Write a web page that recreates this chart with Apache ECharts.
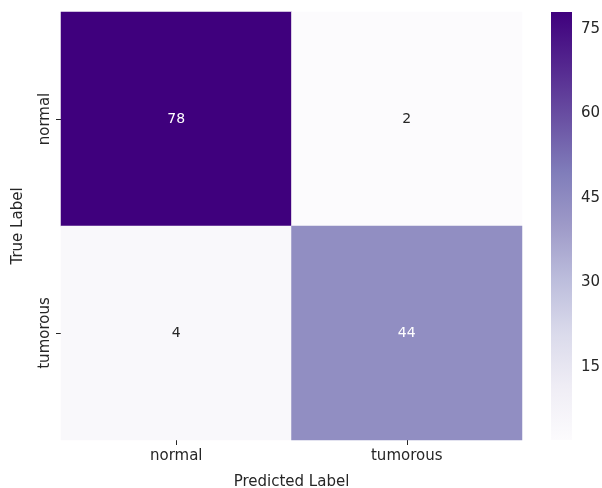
<!DOCTYPE html>
<html>
<head>
<meta charset="utf-8">
<script src="https://cdn.jsdelivr.net/npm/echarts@6/dist/echarts.min.js"></script>
<style>
  html, body { margin: 0; padding: 0; background: #ffffff; }
  #chart { width: 602px; height: 488px; }
</style>
</head>
<body>
<div id="chart"></div>
<script>
// Confusion matrix: rows = true label, columns = predicted label
const predictedLabels = ['normal', 'tumorous'];
const trueLabels = ['normal', 'tumorous'];
const countsNormalRow = [78, 2];
const countsTumorousRow = [4, 44];
const colorbarTicks = [15, 30, 45, 60, 75];

// matplotlib "Purples" colour stops
const purples = ['#fcfbfd', '#efedf5', '#dadaeb', '#bcbddc', '#9e9ac8',
                 '#807dba', '#6a51a3', '#54278f', '#3f007d'];

const rows = [countsNormalRow, countsTumorousRow];
const allValues = rows.flat();
const vMin = Math.min(...allValues);
const vMax = Math.max(...allValues);

const FONT = 'DejaVu Sans';
const TEXT = '#262626';

const cells = [];
rows.forEach((row, r) => {
  row.forEach((v, c) => {
    const t = (v - vMin) / (vMax - vMin);
    cells.push({
      value: [c, r, v],
      label: { color: t > 0.5 ? '#ffffff' : TEXT }
    });
  });
});

// vertical gradient for the colour bar, top = max
const barGradient = new echarts.graphic.LinearGradient(0, 0, 0, 1,
  purples.slice().reverse().map((c, i, a) => ({ offset: i / (a.length - 1), color: c })));

const chart = echarts.init(document.getElementById('chart'), null, { renderer: 'canvas' });

chart.setOption({
  animation: false,
  backgroundColor: '#ffffff',
  textStyle: { fontFamily: FONT },
  grid: [
    { left: 61, top: 12, width: 461, height: 428, outerBoundsMode: 'none', containLabel: false },
    { left: 551, top: 12, width: 21, height: 428, outerBoundsMode: 'none', containLabel: false }
  ],
  xAxis: [
    {
      gridIndex: 0,
      type: 'category',
      data: predictedLabels,
      name: 'Predicted Label',
      nameLocation: 'middle',
      nameGap: 35,
      nameTextStyle: { fontFamily: FONT, fontSize: 15, color: TEXT },
      axisLine: { show: false },
      axisTick: { show: true, alignWithLabel: true, length: 5, lineStyle: { color: TEXT } },
      axisLabel: { fontFamily: FONT, fontSize: 15, color: TEXT, margin: 9 },
      splitLine: { show: false }
    },
    {
      gridIndex: 1,
      type: 'value',
      min: 0,
      max: 1,
      show: false
    }
  ],
  yAxis: [
    {
      gridIndex: 0,
      type: 'category',
      data: trueLabels,
      inverse: true,
      name: 'True Label',
      nameLocation: 'middle',
      nameGap: 35,
      nameTextStyle: { fontFamily: FONT, fontSize: 15, color: TEXT },
      axisLine: { show: false },
      axisTick: { show: true, alignWithLabel: true, length: 5, lineStyle: { color: TEXT } },
      axisLabel: { fontFamily: FONT, fontSize: 15, color: TEXT, rotate: 90, margin: 8 },
      splitLine: { show: false }
    },
    {
      gridIndex: 1,
      type: 'value',
      position: 'right',
      min: vMin,
      max: vMax,
      axisLine: { show: false },
      splitLine: { show: false },
      axisTick: {
        show: true,
        customValues: colorbarTicks,
        length: 5,
        lineStyle: { color: TEXT }
      },
      axisLabel: {
        customValues: colorbarTicks,
        fontFamily: FONT,
        fontSize: 15,
        color: TEXT,
        margin: 9
      }
    }
  ],
  visualMap: {
    type: 'continuous',
    show: false,
    seriesIndex: 0,
    min: vMin,
    max: vMax,
    inRange: { color: purples }
  },
  series: [
    {
      type: 'heatmap',
      xAxisIndex: 0,
      yAxisIndex: 0,
      data: cells,
      label: {
        show: true,
        fontFamily: FONT,
        fontSize: 14,
        formatter: p => String(p.value[2])
      },
      itemStyle: { borderWidth: 0 },
      emphasis: { disabled: true }
    },
    {
      // colour bar spanning the value range
      type: 'custom',
      xAxisIndex: 1,
      yAxisIndex: 1,
      data: [[vMin, vMax]],
      silent: true,
      renderItem: (params, api) => {
        const top = api.coord([0, api.value(1)]);
        const bottom = api.coord([1, api.value(0)]);
        return {
          type: 'rect',
          shape: { x: top[0], y: top[1], width: bottom[0] - top[0], height: bottom[1] - top[1] },
          style: { fill: barGradient }
        };
      }
    }
  ]
});
</script>
</body>
</html>
